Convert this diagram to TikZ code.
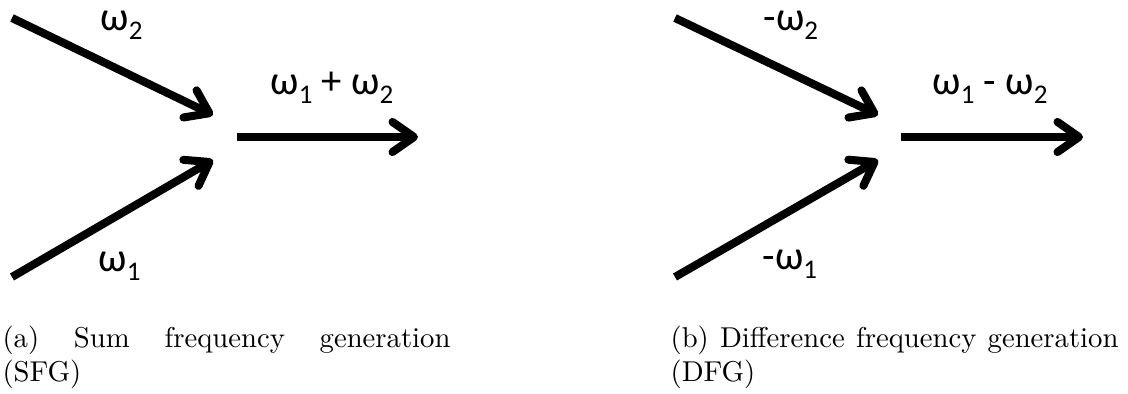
\documentclass[tikz,border=0pt]{standalone}
\usepackage{fontspec}
\usetikzlibrary{arrows.meta}
\newfontfamily\labelfont{Carlito}
\newcommand{\lowidx}[1]{\raisebox{-3.1pt}{\fontsize{9.4}{10}\selectfont #1}}

\begin{document}
\begin{tikzpicture}[x=0.3485pt, y=-0.3485pt,
    beam/.style={line width=2.8pt, -{Straight Barb[length=7.5pt, width=10.5pt, round]}},
    freq/.style={font=\labelfont\fontsize{14.2}{16}\selectfont, anchor=base west, inner sep=0pt},
    capt/.style={anchor=north west, inner sep=0pt, text width=156.1pt, align=justify}]
    \useasboundingbox (0,0) rectangle (1128,394);

    % (a) Sum frequency generation
    \coordinate (a2in) at (12,18);
    \coordinate (a1in) at (12,277);
    \coordinate (atop) at (213,115);
    \coordinate (abot) at (213,160);
    \coordinate (aout) at (237,137);
    \coordinate (aend) at (418,137);
    \draw[beam] (a2in) -- (atop);
    \draw[beam] (a1in) -- (abot);
    \draw[beam] (aout) -- (aend);
    \node[freq] (aw2) at (100,31) {ω\lowidx{2}};
    \node[freq] (asum) at (270,95) {ω\lowidx{1} + ω\lowidx{2}};
    \node[freq] (aw1) at (98,272) {ω\lowidx{1}};
    \node[capt] (acap) at (2,325) {(a) Sum frequency generation (SFG)};

    % (b) Difference frequency generation
    \coordinate (b2in) at (675,18);
    \coordinate (b1in) at (675,277);
    \coordinate (btop) at (878,115);
    \coordinate (bbot) at (878,160);
    \coordinate (bout) at (901,137);
    \coordinate (bend) at (1083,137);
    \draw[beam] (b2in) -- (btop);
    \draw[beam] (b1in) -- (bbot);
    \draw[beam] (bout) -- (bend);
    \node[freq] (bw2) at (763,31) {-ω\lowidx{2}};
    \node[freq] (bdiff) at (932,95) {ω\lowidx{1} - ω\lowidx{2}};
    \node[freq] (bw1) at (762,270) {-ω\lowidx{1}};
    \node[capt] (bcap) at (670,325) {(b) Difference frequency generation (DFG)};
\end{tikzpicture}
\end{document}
